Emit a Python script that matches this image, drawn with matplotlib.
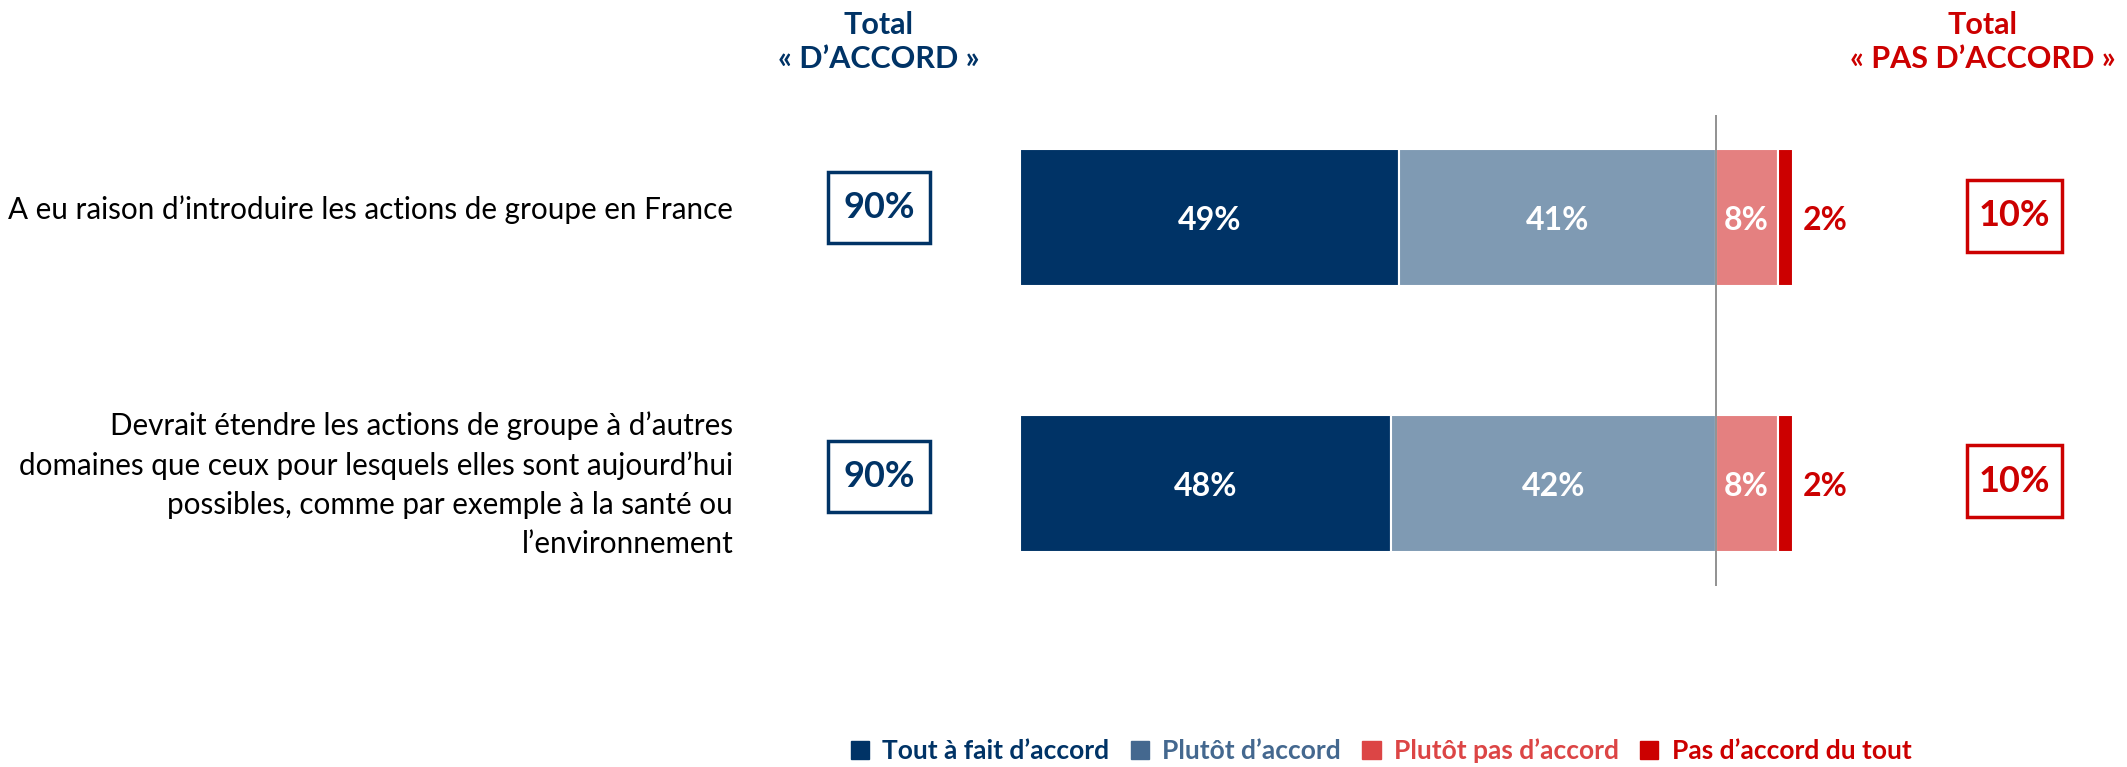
import numpy as np
import matplotlib
matplotlib.use('Agg')
from matplotlib import pyplot as plt
from matplotlib.patches import Patch, Rectangle

plt.rcParams['font.family'] = ['Lato', 'DejaVu Sans']

categories = ['A eu raison d\u2019introduire les actions de groupe en France',
              'Devrait \u00e9tendre les actions de groupe \u00e0 d\u2019autres\n'
              'domaines que ceux pour lesquels elles sont aujourd\u2019hui\n'
              'possibles, comme par exemple \u00e0 la sant\u00e9 ou\n'
              'l\u2019environnement']
series_names = ['Tout \u00e0 fait d\u2019accord', 'Plut\u00f4t d\u2019accord',
                'Plut\u00f4t pas d\u2019accord', 'Pas d\u2019accord du tout']
tout_a_fait = [49, 48]
plutot = [41, 42]
plutot_pas = [8, 8]
pas_du_tout = [2, 2]
total_accord = [90, 90]
total_pas_accord = [10, 10]

bar_colors = ['#003366', '#7f9ab3', '#e48080', '#cc0000']
legend_colors = ['#003366', '#44688f', '#dc4545', '#cc0000']
blue = '#003366'
red = '#cc0000'

fig = plt.figure(figsize=[21.27, 7.67], dpi=100)
W, H = 2127, 767
x0, x1 = 1020, 1793
y_top, y_bot = 115, 586
ax = fig.add_axes([x0 / W, 1 - y_bot / H, (x1 - x0) / W, (y_bot - y_top) / H])

ypos = np.arange(len(categories))
series = [tout_a_fait, plutot, plutot_pas, pas_du_tout]
left = np.zeros(len(categories))
for k, vals in enumerate(series):
    vals = np.array(vals, dtype=float)
    ax.barh(ypos, vals, left=left, height=0.515, color=bar_colors[k],
            edgecolor='white', linewidth=1.5)
    for i, v in enumerate(vals):
        if k < 3:
            ax.text(left[i] + v / 2, ypos[i] + 0.01, f'{int(v)}%', ha='center', va='center',
                    color='white', fontsize=23, fontweight='bold')
        else:
            ax.text(left[i] + v + 1.3, ypos[i] + 0.01, f'{int(v)}%', ha='left', va='center',
                    color=red, fontsize=23, fontweight='bold')
    left += vals

ax.axvline(total_accord[0], color='#7f7f7f', linewidth=1.2)
ax.set_xlim(0, 100)
ax.set_ylim(1.385, -0.385)
ax.axis('off')

# labels and boxes around totals
label_offsets = [-0.028, 0.005]
box_offsets = [(-0.038, -0.006), (-0.028, -0.009)]
for i in range(len(categories)):
    ax.text(-37.1, ypos[i] + label_offsets[i], categories[i], ha='right', va='center',
            fontsize=21.3, color='black', linespacing=1.47, clip_on=False)
    yb, yr = ypos[i] + box_offsets[i][0], ypos[i] + box_offsets[i][1]
    ax.add_patch(Rectangle((-18.2 - 6.6, yb - 0.1335), 13.2, 0.267, fc='white', ec=blue,
                           lw=2.5, clip_on=False))
    ax.text(-18.2, yb, f'{total_accord[i]}%', ha='center', va='center',
            fontsize=26, fontweight='bold', color=blue, clip_on=False)
    ax.add_patch(Rectangle((128.6 - 6.15, yr - 0.135), 12.3, 0.27, fc='white', ec=red,
                           lw=2.5, clip_on=False))
    ax.text(128.6, yr, f'{total_pas_accord[i]}%', ha='center', va='center',
            fontsize=26, fontweight='bold', color=red, clip_on=False)

fig.text(879 / W, 1 - 42 / H, 'Total\n\u00ab D\u2019ACCORD \u00bb', ha='center', va='center',
         fontsize=22, fontweight='bold', color=blue, linespacing=1.3)
fig.text(1983 / W, 1 - 42 / H, 'Total\n\u00ab PAS D\u2019ACCORD \u00bb', ha='center', va='center',
         fontsize=22, fontweight='bold', color=red, linespacing=1.3)

handles = [Patch(facecolor=c, edgecolor=c) for c in legend_colors]
leg = fig.legend(handles, series_names, loc='center', bbox_to_anchor=(1381 / W, 1 - 751 / H),
                 ncol=4, frameon=False, handlelength=0.7, handleheight=0.7,
                 handletextpad=0.5, columnspacing=0.8, prop={'size': 19, 'weight': 'bold'})
for t, c in zip(leg.get_texts(), legend_colors):
    t.set_color(c)

plt.savefig('out.png', dpi=100)
